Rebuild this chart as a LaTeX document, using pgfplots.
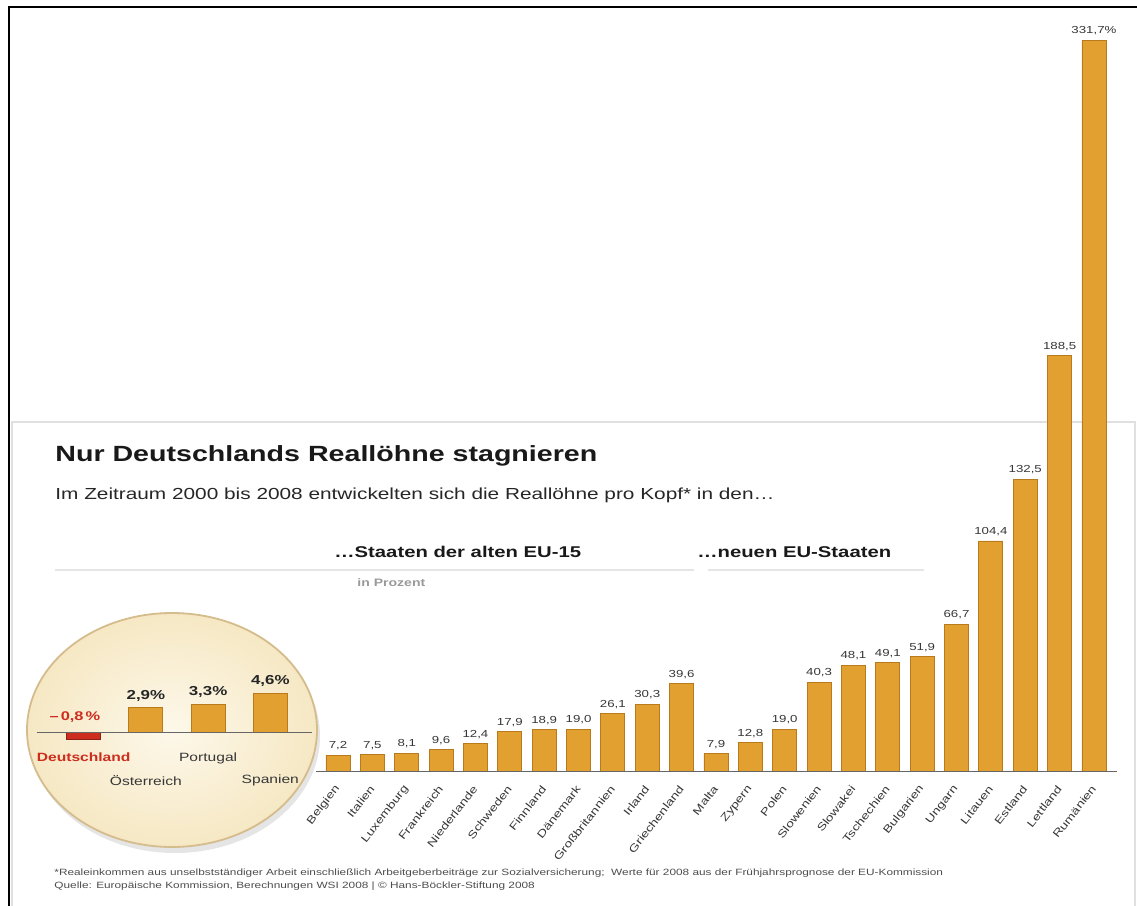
\documentclass[border=0pt]{standalone}
\usepackage{pgfplots}
\pgfplotsset{compat=1.18}
\usepackage{pgfplotstable}
\usepackage{fontspec}
\setmainfont{Liberation Sans}[FakeStretch=1.3]
\definecolor{barc}{RGB}{225,160,48}
\definecolor{bardark}{RGB}{185,122,28}
\definecolor{dred}{RGB}{205,45,30}
\definecolor{creamin}{RGB}{253,248,234}
\definecolor{creamout}{RGB}{246,232,196}
\definecolor{creamedge}{RGB}{212,188,140}
\definecolor{txt}{RGB}{55,55,55}

\pgfplotstableread{
i v l
0 7.2 7,2
1 7.5 7,5
2 8.1 8,1
3 9.6 9,6
4 12.4 12,4
5 17.9 17,9
6 18.9 18,9
7 19.0 19,0
8 26.1 26,1
9 30.3 30,3
10 39.6 39,6
11 7.9 7,9
12 12.8 12,8
13 19.0 19,0
14 40.3 40,3
15 48.1 48,1
16 49.1 49,1
17 51.9 51,9
18 66.7 66,7
19 104.4 104,4
20 132.5 132,5
21 188.5 188,5
22 331.7 331,7\%
}\maindata

\begin{document}
\begin{tikzpicture}
\useasboundingbox (0pt,0pt) rectangle (568.5pt,-453pt);
\begin{scope}[x=0.5pt,y=-0.5pt]
% frame
\draw[black!12, line width=0.6pt] (12,906) -- (12,422) -- (1135,422) -- (1135,906);
\draw[black, line width=1.3pt] (9,906) -- (9,7) -- (1137,7);
% ellipse inset
\fill[black!10] (175,736) ellipse [x radius=145, y radius=117];
\shade[inner color=creamin, outer color=creamout] (172,730) ellipse [x radius=145, y radius=117];
\draw[creamedge, line width=0.9pt] (172,730) ellipse [x radius=145, y radius=117];
% texts
\node[anchor=west, inner sep=0pt, font=\bfseries\fontsize{11}{13}\selectfont, text=black!90] at (55,456) {Nur Deutschlands Reallöhne stagnieren};
\node[anchor=west, inner sep=0pt, font=\fontsize{8}{9}\selectfont, text=black!85] at (55,495) {Im Zeitraum 2000 bis 2008 entwickelten sich die Reallöhne pro Kopf* in den\dots};
\node[anchor=west, inner sep=0pt, font=\bfseries\fontsize{7.8}{9}\selectfont, text=black!90] at (334,552) {\dots Staaten der alten EU-15};
\node[anchor=west, inner sep=0pt, font=\bfseries\fontsize{7.8}{9}\selectfont, text=black!90] at (697,552) {\dots neuen EU-Staaten};
\draw[black!10, line width=0.8pt] (55,570) -- (694,570);
\draw[black!10, line width=0.8pt] (708,570) -- (924,570);
\node[anchor=west, inner sep=0pt, font=\bfseries\fontsize{5.4}{6}\selectfont, text=black!40] at (357,583) {in Prozent};
\node[anchor=west, inner sep=0pt, font=\fontsize{4.55}{5}\selectfont, text=black!70] at (54,873) {*Realeinkommen aus unselbstständiger Arbeit einschließlich Arbeitgeberbeiträge zur Sozialversicherung;\ \ Werte für 2008 aus der Frühjahrsprognose der EU-Kommission};
\node[anchor=west, inner sep=0pt, font=\fontsize{4.55}{5}\selectfont, text=black!70] at (54,886) {Quelle: Europäische Kommission, Berechnungen WSI 2008 | © Hans-Böckler-Stiftung 2008};
\end{scope}

% main chart
\begin{axis}[
  at={(158pt,-385.5pt)}, anchor=south west,
  scale only axis, width=400.5pt, height=365.5pt,
  xmin=-0.64, xmax=22.67, ymin=0, ymax=331.7,
  clip=false,
  axis line style={draw=none}, tick style={draw=none},
  ytick=\empty,
  xtick={0,...,22},
  xticklabels={Belgien,Italien,Luxemburg,Frankreich,Niederlande,Schweden,Finnland,Dänemark,Großbritannien,Irland,Griechenland,Malta,Zypern,Polen,Slowenien,Slowakei,Tschechien,Bulgarien,Ungarn,Litauen,Estland,Lettland,Rumänien},
  xticklabel style={font=\fontsize{5.3}{6}\selectfont, text=txt, yshift=-1pt, xshift=2pt, rotate=52, anchor=east},
  ybar, bar width=12pt,
  nodes near coords, point meta=explicit symbolic,
  every node near coord/.append style={font=\fontsize{5.1}{6}\selectfont, text=txt, inner sep=2.3pt},
]
\addplot[fill=barc, draw=bardark, line width=0.4pt] table[x=i, y=v, meta=l]{\maindata};
\draw[black!60, line width=0.5pt] (axis cs:-0.64,0) -- (axis cs:22.67,0);
\end{axis}

% inset chart
\begin{axis}[
  at={(18.5pt,-370.65pt)}, anchor=south west,
  scale only axis, width=137.5pt, height=25.8pt,
  xmin=-0.75, xmax=3.67, ymin=-1, ymax=5,
  clip=false,
  axis line style={draw=none}, tick style={draw=none},
  ytick=\empty,
  xtick={0,1,2,3},
  xticklabels={{\color{dred}\bfseries Deutschland},{\strut\\[3.5pt]Österreich},{Portugal},{\strut\\[3.5pt]Spanien}},
  xticklabel style={font=\fontsize{6}{7}\selectfont, text=txt, align=center, anchor=north, yshift=2pt},
  ybar, bar width=17pt,
  point meta=explicit symbolic,
]
\addplot[bar shift=0pt, fill=barc, draw=bardark, line width=0.4pt,
  nodes near coords, every node near coord/.append style={font=\bfseries\fontsize{6.5}{7}\selectfont, text=black!85, inner sep=3pt}]
  coordinates {(1,2.9) [2,9\%] (2,3.3) [3,3\%] (3,4.6) [4,6\%]};
\addplot[bar shift=0pt, fill=dred, draw=dred!70!black, line width=0.4pt] coordinates {(0,-0.8) []};
\draw[black!60, line width=0.5pt] (axis cs:-0.75,0) -- (axis cs:3.67,0);
\node[font=\bfseries\fontsize{6.3}{7}\selectfont, text=dred] at (axis cs:-0.14,1.86) {–\,0,8\,\%};
\end{axis}
\end{tikzpicture}
\end{document}
